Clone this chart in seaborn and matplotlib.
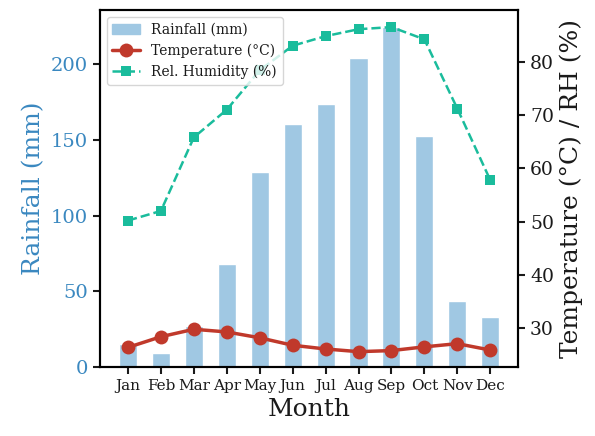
import numpy as np
import pandas as pd
import matplotlib
matplotlib.use("Agg")
import matplotlib.pyplot as plt
import seaborn as sns
from matplotlib.patches import Patch
from matplotlib.lines import Line2D

# Monthly climate data
months = ["Jan", "Feb", "Mar", "Apr", "May", "Jun",
          "Jul", "Aug", "Sep", "Oct", "Nov", "Dec"]
rainfall = [15, 9, 27, 68, 129, 161, 174, 204, 225, 153, 44, 33]
temperature = [26.4, 28.4, 29.8, 29.3, 28.2, 26.8, 26.1, 25.6, 25.8, 26.5, 27.1, 25.9]
humidity = [50.2, 52.0, 65.8, 71.0, 78.4, 83.0, 84.8, 86.1, 86.5, 84.2, 71.2, 57.8]

df = pd.DataFrame({"Month": months, "Rainfall": rainfall,
                   "Temperature": temperature, "Humidity": humidity})
df["pos"] = np.arange(len(df))

sns.set_style("ticks")
plt.rcParams["font.family"] = ["DejaVu Serif"]
plt.rcParams["text.color"] = "#1a1a1a"
plt.rcParams["axes.labelcolor"] = "#1a1a1a"
plt.rcParams["xtick.color"] = "#1a1a1a"
plt.rcParams["ytick.color"] = "#1a1a1a"

bar_color = "#a0c8e3"
axis_blue = "#3a88c0"
temp_color = "#c0392b"
hum_color = "#1abc9c"

fig, ax = plt.subplots(figsize=(5.95, 4.36), dpi=100)
fig.subplots_adjust(left=0.168, right=0.871, top=0.977, bottom=0.158)

# Rainfall bars
ax.bar(df["pos"], df["Rainfall"], width=0.55, color=bar_color)
ax.set_xlim(-0.85, 11.85)
ax.set_ylim(0, 236)
ax.set_yticks([0, 50, 100, 150, 200])
ax.set_xticks(df["pos"])
ax.set_xticklabels(months, fontsize=11)
ax.set_xlabel("Month", fontsize=18)
ax.set_ylabel("Rainfall (mm)", fontsize=18, color=axis_blue)
ax.tick_params(axis="y", labelsize=14, labelcolor=axis_blue, width=1.5, length=5)
ax.tick_params(axis="x", width=1.5, length=5)

# Temperature and humidity on the right axis
ax2 = ax.twinx()
sns.lineplot(data=df, x="pos", y="Temperature", ax=ax2, color=temp_color,
             linewidth=2.5, marker="o", markersize=10, markeredgewidth=0)
sns.lineplot(data=df, x="pos", y="Humidity", ax=ax2, color=hum_color,
             linewidth=1.8, linestyle="--", marker="s", markersize=7,
             markeredgewidth=0)
ax2.set_ylim(22.7, 89.7)
ax2.set_yticks([30, 40, 50, 60, 70, 80])
ax2.set_ylabel("Temperature (°C) / RH (%)", fontsize=18)
ax2.set_xlabel("")
ax2.tick_params(axis="y", labelsize=13.5, width=1.5, length=5)

for a in (ax, ax2):
    for s in a.spines.values():
        s.set_visible(True)
        s.set_linewidth(1.5)
        s.set_color("black")

handles = [
    Patch(color=bar_color, label="Rainfall (mm)"),
    Line2D([], [], color=temp_color, linewidth=2.5, marker="o", markersize=10,
           markeredgewidth=0, label="Temperature (°C)"),
    Line2D([], [], color=hum_color, linewidth=1.8, linestyle="--", marker="s",
           markersize=7, markeredgewidth=0, label="Rel. Humidity (%)"),
]
ax2.legend(handles=handles, loc="upper left", fontsize=10, frameon=True,
           bbox_to_anchor=(0.0, 1.0))

fig.savefig("out.png", dpi=100)
